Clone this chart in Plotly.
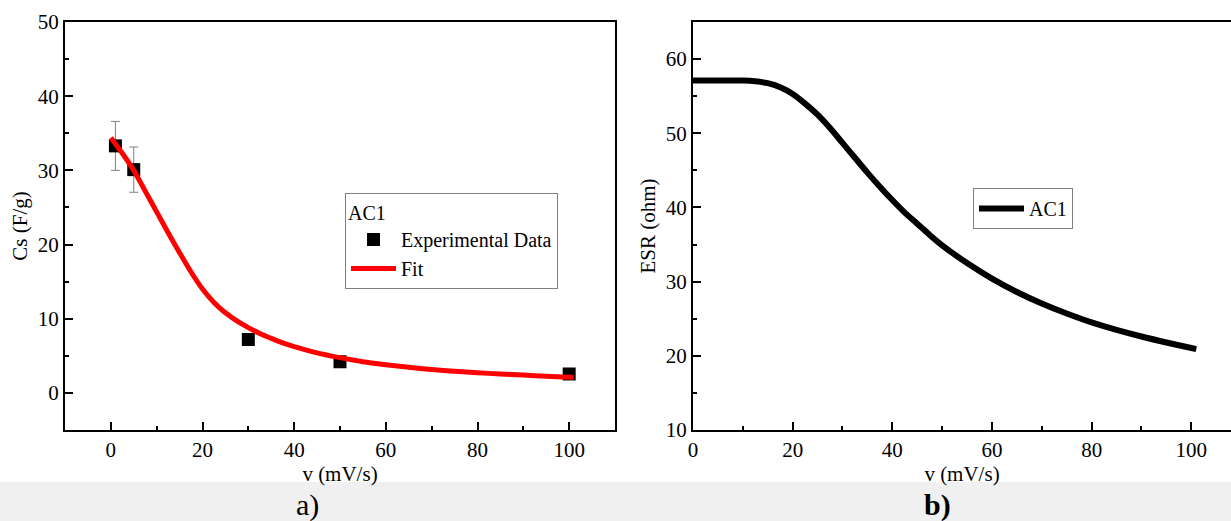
import plotly.graph_objects as go

# ---- data ----
exp_v = [1, 5, 30, 50, 100]
exp_cs = [33.3, 30.1, 7.2, 4.2, 2.55]
exp_err = [3.3, 3.05, 0.5, 0.5, 0.5]

fit_v = [0, 2.5, 5, 7.5, 10, 12.5, 15, 17.5, 20, 22.5, 25, 27.5, 30, 32.5, 35,
         37.5, 40, 45, 50, 55, 60, 65, 70, 75, 80, 85, 90, 95, 100, 101]
fit_cs = [34.4, 32.3, 30.0, 27.2, 24.4, 21.6, 18.9, 16.3, 14.0, 12.2, 10.8, 9.7,
          8.8, 8.0, 7.35, 6.75, 6.25, 5.4, 4.75, 4.2, 3.8, 3.45, 3.15, 2.92,
          2.72, 2.55, 2.4, 2.25, 2.12, 2.1]

esr_v = [0, 5, 10, 12.5, 15, 17.5, 20, 22.5, 25, 27.5, 30, 32.5, 35, 37.5, 40,
         42.5, 45, 47.5, 50, 55, 60, 65, 70, 75, 80, 85, 90, 95, 100, 101]
esr_ohm = [57.1, 57.1, 57.1, 57.0, 56.75, 56.2, 55.3, 54.0, 52.5, 50.7, 48.7,
           46.7, 44.7, 42.8, 41.0, 39.3, 37.8, 36.3, 34.9, 32.5, 30.4, 28.6,
           27.05, 25.7, 24.5, 23.5, 22.6, 21.8, 21.05, 20.9]

panel_labels = ["a)", "b)"]

W, H = 1231, 521
FONT = "Liberation Serif"

fig = go.Figure()

fig.add_trace(go.Scatter(
    x=exp_v, y=exp_cs, mode="markers", name="Experimental Data",
    marker=dict(symbol="square", size=13, color="black"),
    error_y=dict(type="data", array=exp_err, color="#808080", thickness=1, width=4.5),
    xaxis="x", yaxis="y", legend="legend"))

fig.add_trace(go.Scatter(
    x=fit_v, y=fit_cs, mode="lines", name="Fit",
    line=dict(color="red", width=5, shape="spline", smoothing=0.8),
    xaxis="x", yaxis="y", legend="legend"))

fig.add_trace(go.Scatter(
    x=esr_v, y=esr_ohm, mode="lines", name="AC1",
    line=dict(color="black", width=6, shape="spline", smoothing=0.8),
    xaxis="x2", yaxis="y2", legend="legend2"))

def px_x(p):
    return p / W

def px_y(p):
    return 1 - p / H

tick_common = dict(ticks="inside", ticklen=8, tickwidth=2, tickcolor="black",
                   showline=True, linewidth=2, linecolor="black", showgrid=False,
                   zeroline=False, automargin=False,
                   tickfont=dict(family=FONT, size=21, color="black"))

minor_x = dict(dtick=10, tick0=0, ticks="inside", ticklen=4, tickwidth=2, tickcolor="black")

fig.update_layout(
    width=W, height=H,
    margin=dict(l=0, r=0, t=0, b=0),
    paper_bgcolor="white", plot_bgcolor="white",
    font=dict(family=FONT, color="black"),
    xaxis=dict(domain=[px_x(65), px_x(615)], range=[-10, 110], tick0=0, dtick=20,
               minor=minor_x, mirror=True, anchor="y",
               title=dict(text="v (mV/s)", font=dict(family=FONT, size=21), standoff=0),
               **tick_common),
    yaxis=dict(domain=[px_y(430), px_y(22)], range=[-5, 50], tick0=0, dtick=10,
               minor=dict(dtick=5, tick0=0, ticks="inside", ticklen=4, tickwidth=2, tickcolor="black"),
               mirror=True, anchor="x",
               title=dict(text="Cs (F/g)", font=dict(family=FONT, size=21), standoff=4),
               **tick_common),
    xaxis2=dict(domain=[px_x(693), 1.0], range=[0, 107.97], tick0=0, dtick=20,
                minor=minor_x, mirror=True, anchor="y2",
                title=dict(text="v (mV/s)", font=dict(family=FONT, size=21), standoff=0),
                **tick_common),
    yaxis2=dict(domain=[px_y(430), px_y(22)], range=[10, 65], tick0=10, dtick=10,
                minor=dict(dtick=5, tick0=10, ticks="inside", ticklen=4, tickwidth=2, tickcolor="black"),
                mirror=False, anchor="x2",
                title=dict(text="ESR (ohm)", font=dict(family=FONT, size=21), standoff=4),
                **tick_common),
    legend=dict(x=px_x(345), y=px_y(193), xanchor="left", yanchor="top",
                bgcolor="white", bordercolor="#808080", borderwidth=1,
                font=dict(family=FONT, size=20, color="black"),
                title=dict(text="AC1", font=dict(family=FONT, size=20)),
                itemwidth=45, tracegroupgap=0),
    legend2=dict(x=px_x(973), y=px_y(188), xanchor="left", yanchor="top",
                 bgcolor="white", bordercolor="#808080", borderwidth=1,
                 font=dict(family=FONT, size=20, color="black"),
                 itemwidth=45),
    showlegend=True,
)

fig.add_shape(type="rect", xref="paper", yref="paper", x0=0, x1=1,
              y0=0, y1=px_y(482), fillcolor="#f0f0f0", line=dict(width=0), layer="below")

fig.add_annotation(text=panel_labels[0], xref="paper", yref="paper",
                   x=px_x(307), y=px_y(505), xanchor="center", yanchor="middle",
                   showarrow=False, font=dict(family=FONT, size=30, color="black"))
fig.add_annotation(text="<b>" + panel_labels[1] + "</b>", xref="paper", yref="paper",
                   x=px_x(937), y=px_y(505), xanchor="center", yanchor="middle",
                   showarrow=False, font=dict(family=FONT, size=30, color="black"))

fig.write_html("out.html")
